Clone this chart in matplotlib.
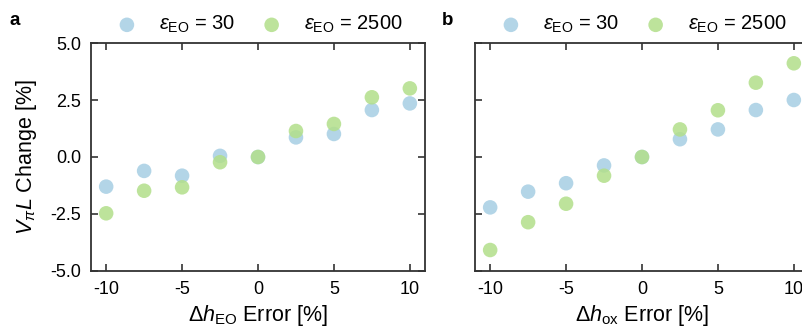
import numpy as np
import matplotlib
matplotlib.use("Agg")
import matplotlib.pyplot as plt

plt.rcParams["font.family"] = ["Liberation Sans", "DejaVu Sans"]
plt.rcParams["mathtext.fontset"] = "custom"
plt.rcParams["mathtext.rm"] = "Liberation Sans"
plt.rcParams["mathtext.it"] = "Liberation Sans:italic"
plt.rcParams["mathtext.bf"] = "Liberation Sans:bold"

# thickness error sweep [%]
error_pct = [-10, -7.5, -5, -2.5, 0, 2.5, 5, 7.5, 10]

# VpiL change [%] vs EO layer thickness error
heo_eps30 = [-1.30, -0.61, -0.82, 0.05, 0.0, 0.86, 1.01, 2.06, 2.35]
heo_eps2500 = [-2.47, -1.48, -1.33, -0.23, 0.0, 1.14, 1.45, 2.62, 3.01]

# VpiL change [%] vs oxide thickness error
hox_eps30 = [-2.21, -1.52, -1.15, -0.37, 0.0, 0.78, 1.21, 2.06, 2.50]
hox_eps2500 = [-4.08, -2.86, -2.05, -0.82, 0.0, 1.21, 2.05, 3.26, 4.11]

series_labels = [r"$\varepsilon_{\mathrm{EO}}$ = 30", r"$\varepsilon_{\mathrm{EO}}$ = 2500"]
colors = ["#a6cee3", "#b2df8a"]
xlabels = [r"$\Delta h_{\mathrm{EO}}$ Error [%]", r"$\Delta h_{\mathrm{ox}}$ Error [%]"]
panel_tags = ["a", "b"]

fig = plt.figure(figsize=(8.03, 3.36), dpi=100)
ax_a = fig.add_axes([0.1133, 0.1935, 0.416, 0.6785])
ax_b = fig.add_axes([0.5915, 0.1935, 0.416, 0.6785])

panels = [
    (ax_a, [heo_eps30, heo_eps2500]),
    (ax_b, [hox_eps30, hox_eps2500]),
]

for i, (ax, data) in enumerate(panels):
    for vals, col, lab in zip(data, colors, series_labels):
        ax.scatter(error_pct, vals, s=110, color=col, alpha=0.85,
                   edgecolors="none", label=lab, zorder=3)
    ax.set_xlim(-11, 11)
    ax.set_ylim(-5, 5)
    ax.set_xticks([-10, -5, 0, 5, 10])
    ax.set_xticklabels(["-10", "-5", "0", "5", "10"])
    ax.set_yticks([-5, -2.5, 0, 2.5, 5])
    ax.tick_params(direction="in", top=True, right=True, length=5,
                   width=1.2, color="#333333", labelsize=13, pad=7)
    for sp in ax.spines.values():
        sp.set_color("#333333")
        sp.set_linewidth(1.3)
    ax.set_xlabel(xlabels[i], fontsize=15.5, labelpad=4)
    ax.legend(loc="center", bbox_to_anchor=(0.505, 1.08), ncol=2, frameon=False,
              fontsize=14.5, handletextpad=1.1, columnspacing=1.3,
              borderaxespad=0, handlelength=1.0)

ax_a.set_yticklabels(["-5.0", "-2.5", "0.0", "2.5", "5.0"])
ax_b.set_yticklabels([])
ax_a.set_ylabel(r"$V_{\pi}L$ Change [%]", fontsize=15.5, labelpad=8)

fig.text(0.012, 0.94, panel_tags[0], fontsize=13.5, fontweight="bold", va="center")
fig.text(0.550, 0.94, panel_tags[1], fontsize=13.5, fontweight="bold", va="center")

fig.savefig("out.png", dpi=100)
